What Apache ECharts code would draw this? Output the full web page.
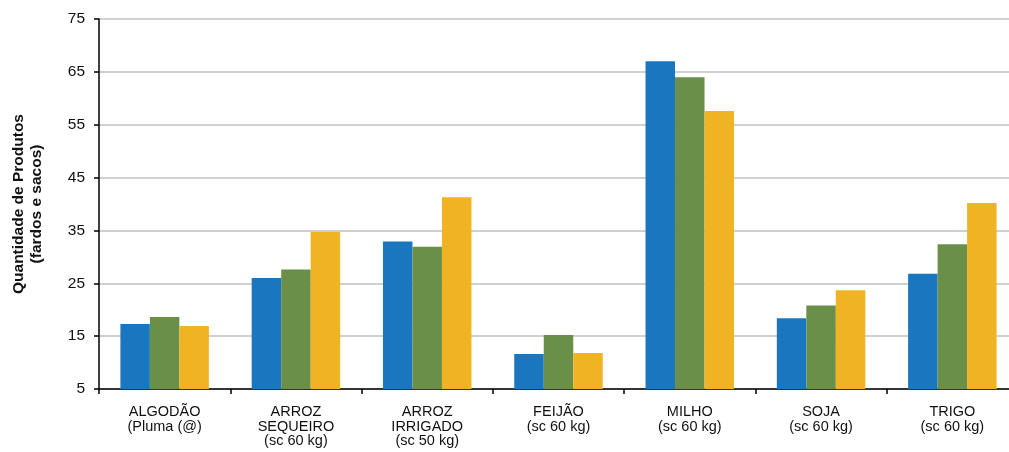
<!DOCTYPE html>
<html>
<head>
<meta charset="utf-8">
<script src="https://cdn.jsdelivr.net/npm/echarts@6/dist/echarts.min.js"></script>
<style>
html,body{margin:0;padding:0;background:#fff;}
#c{width:1009px;height:452px;}
</style>
</head>
<body>
<div id="c"></div>
<script>
const categories = [
  "ALGODÃO\n(Pluma (@)",
  "ARROZ\nSEQUEIRO\n(sc 60 kg)",
  "ARROZ\nIRRIGADO\n(sc 50 kg)",
  "FEIJÃO\n(sc 60 kg)",
  "MILHO\n(sc 60 kg)",
  "SOJA\n(sc 60 kg)",
  "TRIGO\n(sc 60 kg)"
];
const seriesBlue   = [17.3, 26.0, 32.9, 11.6, 67.0, 18.4, 26.8];
const seriesGreen  = [18.6, 27.6, 31.9, 15.2, 64.0, 20.8, 32.4];
const seriesYellow = [16.9, 34.7, 41.3, 11.8, 57.6, 23.7, 40.2];
const colors = ["#1a76be", "#6a8f48", "#efb324"];
const yMin = 5, yMax = 75, yStep = 10;

const chart = echarts.init(document.getElementById('c'), null, {renderer: 'canvas'});
const font = "'Liberation Sans', Arial, sans-serif";
const mk = (data, i) => ({
  type: 'bar', data: data, barGap: '0%', barCategoryGap: '32.6%',
  itemStyle: {color: colors[i]}, animation: false
});
chart.setOption({
  animation: false,
  grid: {left: 99, width: 919, top: 19, height: 370, containLabel: false, outerBoundsMode: 'none'},
  xAxis: {
    type: 'category', data: categories,
    axisLine: {show: true, lineStyle: {color: '#000', width: 1.5}},
    axisTick: {show: true, length: 5, lineStyle: {color: '#000', width: 1.5}},
    axisLabel: {color: '#111', fontFamily: font, fontSize: 14.5, lineHeight: 14.5, margin: 16, interval: 0}
  },
  yAxis: {
    type: 'value', min: yMin, max: yMax, interval: yStep,
    name: 'Quantidade de Produtos\n(fardos e sacos)',
    nameLocation: 'middle', nameRotate: 90, nameGap: 53,
    nameTextStyle: {color: '#111', fontFamily: font, fontSize: 15.5, fontWeight: 'bold', lineHeight: 18.5},
    axisLine: {show: true, lineStyle: {color: '#000', width: 1.5}},
    axisTick: {show: true, length: 5, lineStyle: {color: '#000', width: 1.5}},
    axisLabel: {color: '#111', fontFamily: font, fontSize: 15.5, margin: 14},
    splitLine: {show: true, lineStyle: {color: '#d0d0d0', width: 2}}
  },
  series: [mk(seriesBlue, 0), mk(seriesGreen, 1), mk(seriesYellow, 2)]
});
</script>
</body>
</html>
